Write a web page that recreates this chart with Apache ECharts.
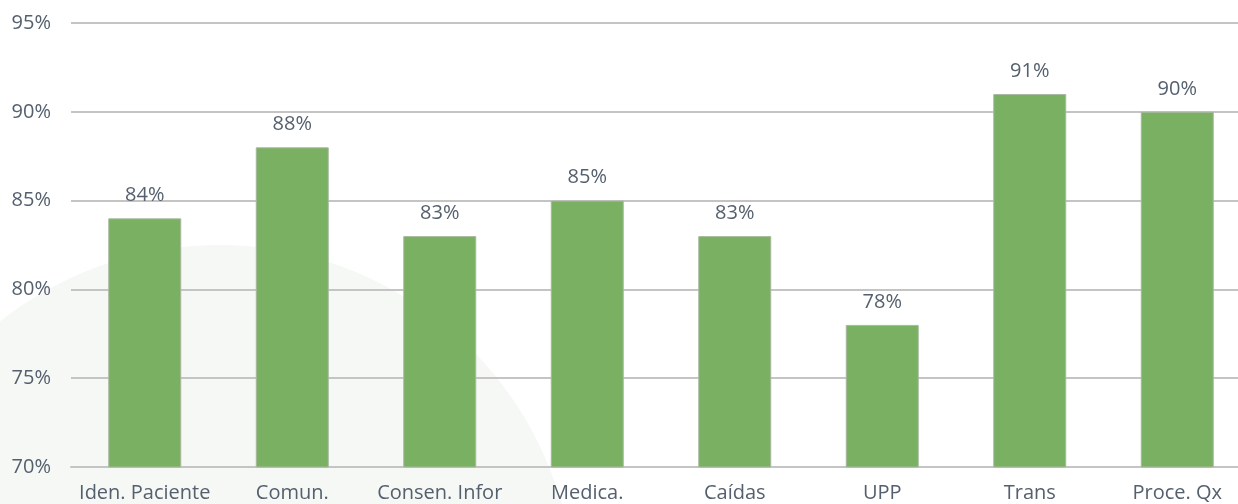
<!DOCTYPE html>
<html><head><meta charset="utf-8">
<script src="https://cdn.jsdelivr.net/npm/echarts@6/dist/echarts.min.js"></script>
<style>html,body{margin:0;padding:0;background:#fff}#c{width:1238px;height:504px}</style>
</head><body><div id="c"></div>
<script>
var categories = ['Iden. Paciente','Comun.','Consen. Infor','Medica.','Caídas','UPP','Trans','Proce. Qx'];
var values = [84, 88, 83, 85, 83, 78, 91, 90];
var yMin = 70, yMax = 95, yStep = 5;

var chart = echarts.init(document.getElementById('c'));
var txt = '#55606e';
chart.setOption({
  backgroundColor: '#ffffff',
  animation: false,
  graphic: [{
    type: 'circle', z: -10, silent: true,
    shape: {cx: 220, cy: 600, r: 355},
    style: {fill: '#f6f8f5'}
  }],
  grid: {left: 71, width: 1180, top: 23, bottom: 37, outerBoundsMode: 'none', containLabel: false},
  xAxis: {
    type: 'category', data: categories,
    axisLine: {show: true, lineStyle: {color: '#c4c4c4', width: 2}},
    axisTick: {show: false},
    axisLabel: {color: txt, fontSize: 20, fontFamily: 'Open Sans', margin: 16, interval: 0}
  },
  yAxis: {
    type: 'value', min: yMin, max: yMax, interval: yStep,
    axisLine: {show: false}, axisTick: {show: false},
    splitLine: {lineStyle: {color: '#c4c4c4', width: 2}},
    axisLabel: {color: txt, fontSize: 20, fontFamily: 'Open Sans', margin: 20, formatter: '{value}%'}
  },
  series: [{
    type: 'bar', data: values, barWidth: 73,
    itemStyle: {color: '#7ab062', borderColor: '#a8b8a0', borderWidth: 1},
    label: {show: true, position: 'top', distance: 13, color: txt, fontSize: 20, fontFamily: 'Open Sans', formatter: '{c}%'}
  }]
});
</script></body></html>
